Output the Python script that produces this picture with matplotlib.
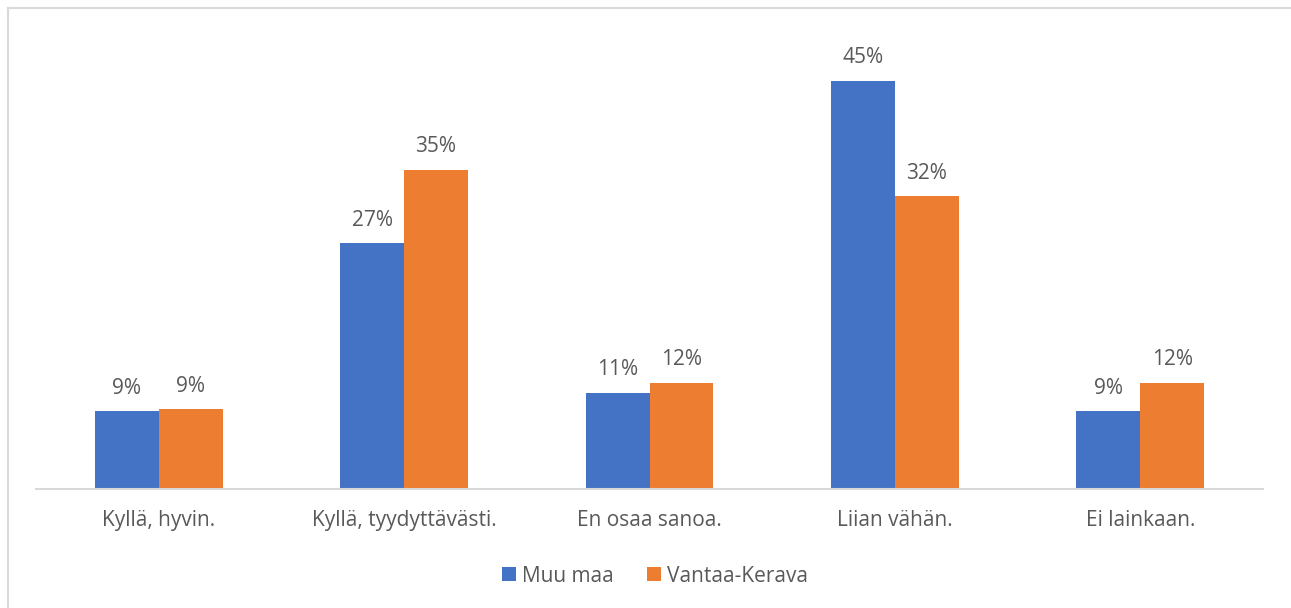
import matplotlib
matplotlib.use("Agg")
import matplotlib.pyplot as plt
from matplotlib.lines import Line2D
from matplotlib.patches import Patch
import numpy as np

categories = ["Kyllä, hyvin.", "Kyllä, tyydyttävästi.", "En osaa sanoa.", "Liian vähän.", "Ei lainkaan."]
muu_maa = [8.6, 27.1, 10.6, 45.0, 8.6]
vantaa_kerava = [8.8, 35.2, 11.7, 32.3, 11.7]
series_names = ["Muu maa", "Vantaa-Kerava"]
colors = ["#4472C4", "#ED7D31"]
text_color = "#595959"

plt.rcParams['font.family'] = ['Open Sans', 'DejaVu Sans']
FS = 15

W, H = 1291, 608
fig = plt.figure(figsize=(W / 100, H / 100), dpi=100)
ax = fig.add_axes([36 / W, (H - 489) / H, (1263 - 36) / W, 453.5 / H])

x = np.arange(len(categories))
bw = 0.26
for i, (vals, name, c) in enumerate(zip([muu_maa, vantaa_kerava], series_names, colors)):
    pos = x + (i - 0.5) * bw
    bars = ax.bar(pos, vals, width=bw, color=c, label=name, zorder=2)
    for b, v in zip(bars, vals):
        ax.annotate(f"{v:.0f}%", (b.get_x() + b.get_width() / 2, v), xytext=(0, 16.5),
                    textcoords="offset points", ha="center", va="center",
                    fontsize=FS, color=text_color)

ax.set_xlim(-0.5, len(categories) - 0.5)
ax.set_ylim(0, 50)
ax.set_yticks([])
for s in ["top", "right", "left"]:
    ax.spines[s].set_visible(False)
ax.spines["bottom"].set_color("#D9D9D9")
ax.spines["bottom"].set_linewidth(1.5)
ax.set_xticks(x)
ax.set_xticklabels(categories, fontsize=FS, color=text_color)
ax.tick_params(axis="x", length=0, pad=15)

handles = [Patch(facecolor=c, label=n) for c, n in zip(colors, series_names)]
fig.legend(handles=handles, loc="center", bbox_to_anchor=(655 / W, 1 - 576 / H), ncol=2,
           frameon=False, fontsize=FS, labelcolor=text_color, handlelength=0.65,
           handleheight=0.65, handletextpad=0.3, columnspacing=1.6)

fig.add_artist(Line2D([7.5 / W, 7.5 / W], [0, 1 - 7.5 / H], color="#D9D9D9", lw=1.5, transform=fig.transFigure))
fig.add_artist(Line2D([7.5 / W, 1], [1 - 7.5 / H, 1 - 7.5 / H], color="#D9D9D9", lw=1.5, transform=fig.transFigure))

fig.savefig("out.png", dpi=100)
